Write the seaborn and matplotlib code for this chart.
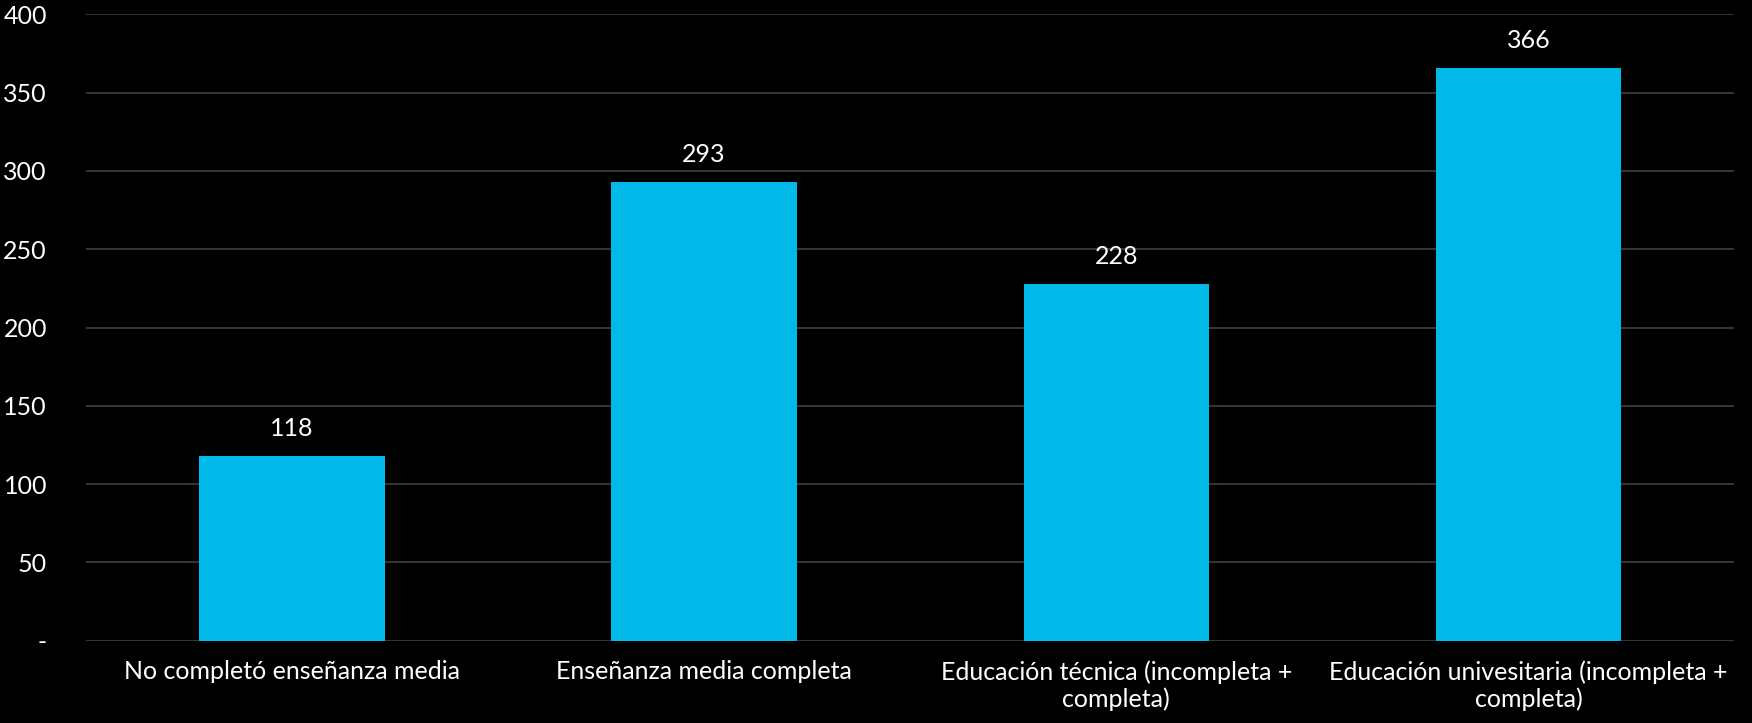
import matplotlib
matplotlib.use("Agg")
import matplotlib.pyplot as plt
import seaborn as sns
import pandas as pd
from matplotlib.ticker import FuncFormatter

categorias = [
    "No completó enseñanza media",
    "Enseñanza media completa",
    "Educación técnica (incompleta +\ncompleta)",
    "Educación univesitaria (incompleta +\ncompleta)",
]
valores = [118, 293, 228, 366]

df = pd.DataFrame({"Nivel": categorias, "Valor": valores})

sns.set_theme(style="dark")
plt.rcParams["font.family"] = ["Lato", "DejaVu Sans"]

fig = plt.figure(figsize=(17.52, 7.23), dpi=100, facecolor="black")
ax = fig.add_axes([0.049, 0.114, 0.941, 0.866])
ax.set_facecolor("black")

sns.barplot(data=df, x="Nivel", y="Valor", color="#00B9E8", saturation=1,
            width=0.45, linewidth=0, ax=ax, zorder=3)

# Etiquetas de valor sobre las barras.
for i, v in enumerate(valores):
    ax.text(i, v + 10, f"{v}", ha="center", va="bottom", color="white", fontsize=18)

ax.set_ylim(0, 400)
ax.set_yticks(range(0, 401, 50))
ax.yaxis.set_major_formatter(FuncFormatter(lambda y, _: "-" if y == 0 else f"{int(y)}"))
ax.grid(axis="y", color="#3f3f3f", linewidth=1.2, zorder=0)
ax.grid(axis="x", visible=False)
ax.set_xlim(-0.5, 3.5)

for s in ax.spines.values():
    s.set_visible(False)

ax.tick_params(axis="y", colors="white", labelsize=18, length=0, pad=28)
ax.tick_params(axis="x", colors="white", labelsize=18, length=0, pad=14)
for lab in ax.get_yticklabels():
    lab.set_horizontalalignment("right")
ax.set_xlabel("")
ax.set_ylabel("")

fig.savefig("out.png", dpi=100, facecolor="black")
